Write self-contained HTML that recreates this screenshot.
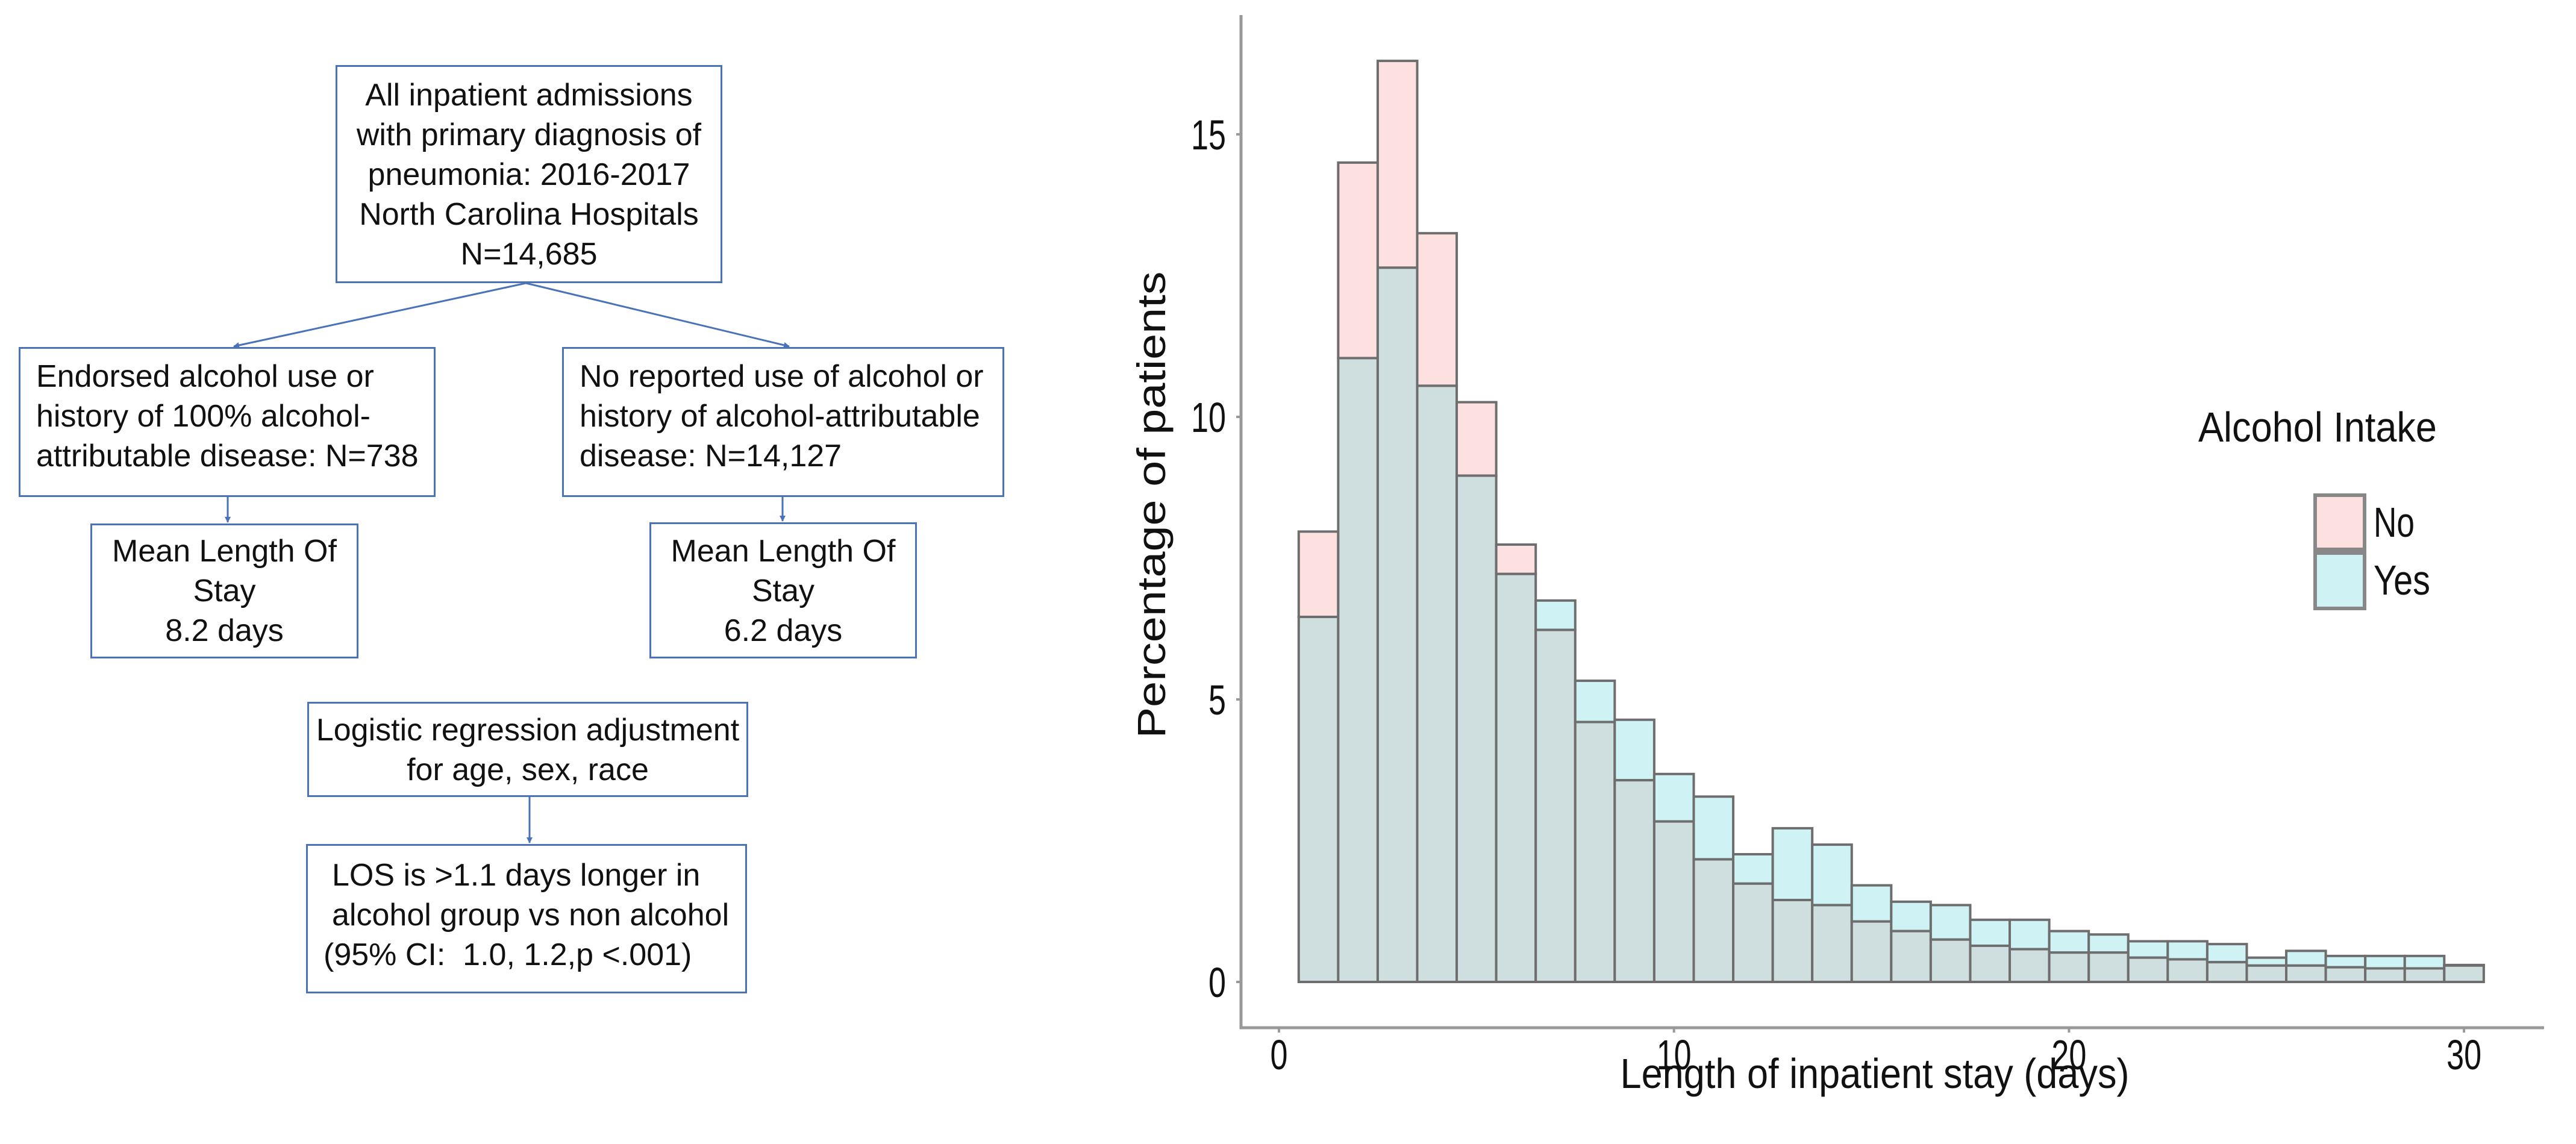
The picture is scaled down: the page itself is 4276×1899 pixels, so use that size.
<!DOCTYPE html>
<html><head><meta charset="utf-8"><style>
html,body{margin:0;padding:0;background:#fff;}
body{width:4276px;height:1899px;position:relative;overflow:hidden;font-family:"Liberation Sans",sans-serif;}
.box{position:absolute;border:3px solid #4a72b8;box-sizing:border-box;font-size:52px;line-height:66px;color:#111;background:#fff;white-space:nowrap;}
.c{text-align:center;}
</style></head><body>
<svg width="4276" height="1899" style="position:absolute;left:0;top:0">
<defs><marker id="ah" markerWidth="10" markerHeight="10" refX="9" refY="5" orient="auto" markerUnits="userSpaceOnUse" viewBox="0 0 10 10"><path d="M0,0 L10,5 L0,10 z" fill="#4a72b8"/></marker></defs>
<g stroke="#4a72b8" stroke-width="3" fill="none">
<line x1="873" y1="470" x2="388" y2="575" marker-end="url(#ah)"/>
<line x1="873" y1="470" x2="1310" y2="575" marker-end="url(#ah)"/>
<line x1="378" y1="825" x2="378" y2="867" marker-end="url(#ah)"/>
<line x1="1299" y1="825" x2="1299" y2="865" marker-end="url(#ah)"/>
<line x1="879" y1="1323" x2="879" y2="1399" marker-end="url(#ah)"/>
</g></svg>
<div class="box c" style="left:557px;top:108px;width:642px;height:362px;padding-top:14px;">All inpatient admissions<br>with primary diagnosis of<br>pneumonia: 2016-2017<br>North Carolina Hospitals<br>N=14,685</div>
<div class="box" style="left:31px;top:576px;width:692px;height:249px;padding:13px 0 0 26px;">Endorsed alcohol use or<br>history of 100% alcohol-<br>attributable disease: N=738</div>
<div class="box" style="left:933px;top:576px;width:734px;height:249px;padding:13px 0 0 26px;">No reported use of alcohol or<br>history of alcohol-attributable<br>disease: N=14,127</div>
<div class="box c" style="left:150px;top:869px;width:445px;height:224px;padding-top:10px;">Mean Length Of<br>Stay<br>8.2 days</div>
<div class="box c" style="left:1078px;top:867px;width:444px;height:226px;padding-top:12px;">Mean Length Of<br>Stay<br>6.2 days</div>
<div class="box c" style="left:510px;top:1165px;width:732px;height:158px;padding-top:11px;">Logistic regression adjustment<br>for age, sex, race</div>
<div class="box" style="left:508px;top:1401px;width:732px;height:248px;padding:16px 0 0 40px;">LOS is &gt;1.1 days longer in<br>alcohol group vs non alcohol<br><span style="margin-left:-14px">(95% CI:&nbsp; 1.0, 1.2,p &lt;.001)</span></div>

<svg id="chart" width="4276" height="1899" style="position:absolute;left:0;top:0"></svg>
<script>
const bins = [1,2,3,4,5,6,7,8,9,10,11,12,13,14,15,16,17,18,19,20,21,22,23,24,25,26,27,28,29,30];
const noValues = [7.97,14.5,16.3,13.25,10.26,7.74,6.23,4.6,3.57,2.84,2.17,1.74,1.45,1.36,1.07,0.9,0.75,0.64,0.58,0.52,0.52,0.43,0.4,0.35,0.29,0.29,0.26,0.24,0.24,0.29];
const yesValues = [6.46,11.04,12.64,10.55,8.96,7.22,6.75,5.33,4.64,3.68,3.28,2.26,2.72,2.43,1.71,1.42,1.36,1.1,1.1,0.9,0.84,0.72,0.72,0.67,0.43,0.55,0.46,0.46,0.46,0.3];
const xTicks = [0,10,20,30];
const yTicks = [0,5,10,15];
const NS="http://www.w3.org/2000/svg";
const svg=document.getElementById('chart');
const X0=2123, XS=65.57, Y0=1630, YS=93.8;
function xs(v){return X0+v*XS;}
function ys(v){return Y0-v*YS;}
function mk(t,a){const e=document.createElementNS(NS,t);for(const k in a)e.setAttribute(k,a[k]);svg.appendChild(e);return e;}
const FONT='"Liberation Sans",sans-serif';
function tl(s){return Math.round(String(s).length*29);}
let ax=mk('path',{d:'M2060 25 V1706 H4223',stroke:'#999',"stroke-width":5,fill:'none'});


yTicks.forEach(v=>{
  let t=mk('line',{x1:2052,x2:2060,y1:ys(v),y2:ys(v),stroke:'#999','stroke-width':4});
  
  
  let l=mk('text',{x:2035,y:ys(v)+25,'text-anchor':'end','font-size':70,'font-family':FONT,fill:'#111',textLength:tl(v),lengthAdjust:'spacingAndGlyphs'});
  l.textContent=v;
  
  
});
xTicks.forEach(v=>{
  let t=mk('line',{x1:xs(v),x2:xs(v),y1:1706,y2:1714,stroke:'#999','stroke-width':4});
  
  
  let l=mk('text',{x:xs(v),y:1775,'text-anchor':'middle','font-size':70,'font-family':FONT,fill:'#111',textLength:tl(v),lengthAdjust:'spacingAndGlyphs'});
  l.textContent=v;
  
  
});
bins.forEach((b,i)=>{
  const x=xs(b-0.5), w=XS, n=noValues[i], y=yesValues[i], lo=Math.min(n,y), hi=Math.max(n,y);
  let top=mk('rect',{x:x,y:ys(hi),width:w,height:ys(lo)-ys(hi),fill:n>y?'#fde1e1':'#cff3f5',stroke:'#6e6e6e','stroke-width':4});
  
  
  let ov=mk('rect',{x:x,y:ys(lo),width:w,height:ys(0)-ys(lo),fill:'#cfdfdf',stroke:'#6e6e6e','stroke-width':4});
  
  
});
let xt=mk('text',{x:3112,y:1806,'text-anchor':'middle','font-size':70,'font-family':FONT,fill:'#111',textLength:845,lengthAdjust:'spacingAndGlyphs'});
xt.textContent='Length of inpatient stay (days)';


let yt=mk('text',{x:0,y:0,'text-anchor':'middle','font-size':66,'font-family':FONT,fill:'#111',textLength:775,lengthAdjust:'spacingAndGlyphs',transform:'translate(1934,838) rotate(-90)'});
yt.textContent='Percentage of patients';


let lt=mk('text',{x:3649,y:733,'font-size':70,'font-family':FONT,fill:'#111',textLength:396,lengthAdjust:'spacingAndGlyphs'});
lt.textContent='Alcohol Intake';


let k1=mk('rect',{x:3843,y:822,width:82,height:90,fill:'#fde1e1',stroke:'#888','stroke-width':6});


let k2=mk('rect',{x:3843,y:918,width:82,height:92,fill:'#cff3f5',stroke:'#888','stroke-width':6});


let l1=mk('text',{x:3940,y:891,'font-size':70,'font-family':FONT,fill:'#111',textLength:68,lengthAdjust:'spacingAndGlyphs'});
l1.textContent='No';


let l2=mk('text',{x:3940,y:987,'font-size':70,'font-family':FONT,fill:'#111',textLength:94,lengthAdjust:'spacingAndGlyphs'});
l2.textContent='Yes';


</script>
</body></html>
